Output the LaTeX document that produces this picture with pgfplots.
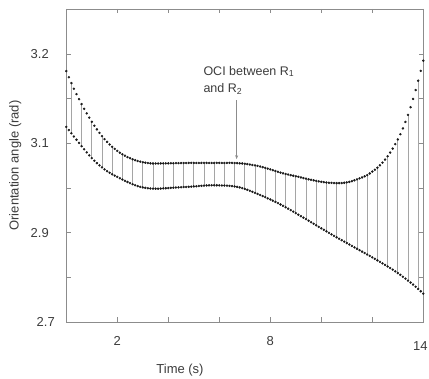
\documentclass[border=0pt]{standalone}
\usepackage{pgfplots}
\pgfplotsset{compat=1.18}
\usepackage{pgfplotstable}
\usepackage{fontspec}
\setmainfont{Liberation Sans}
\usetikzlibrary{arrows.meta}
\definecolor{frame}{RGB}{140,140,140}
\definecolor{txt}{RGB}{60,60,60}
\definecolor{vline}{RGB}{165,165,165}
\definecolor{dot}{RGB}{25,25,25}

\pgfplotstableread{
t up lo
0.0 3.1810 3.1185
0.1 3.1741 3.1149
0.2 3.1675 3.1113
0.3 3.1612 3.1077
0.4 3.1552 3.1041
0.5 3.1495 3.1005
0.6 3.1440 3.0969
0.7 3.1387 3.0934
0.8 3.1336 3.0899
0.9 3.1288 3.0866
1.0 3.1242 3.0835
1.1 3.1198 3.0806
1.2 3.1157 3.0779
1.3 3.1118 3.0754
1.4 3.1082 3.0731
1.5 3.1048 3.0709
1.6 3.1017 3.0689
1.7 3.0988 3.0671
1.8 3.0962 3.0654
1.9 3.0938 3.0639
2.0 3.0916 3.0625
2.1 3.0896 3.0610
2.2 3.0878 3.0595
2.3 3.0862 3.0581
2.4 3.0847 3.0568
2.5 3.0834 3.0555
2.6 3.0822 3.0543
2.7 3.0812 3.0532
2.8 3.0803 3.0522
2.9 3.0795 3.0514
3.0 3.0789 3.0507
3.1 3.0784 3.0502
3.2 3.0780 3.0498
3.3 3.0777 3.0495
3.4 3.0775 3.0494
3.5 3.0775 3.0493
3.6 3.0775 3.0493
3.7 3.0776 3.0494
3.8 3.0776 3.0496
3.9 3.0777 3.0498
4.0 3.0777 3.0500
4.1 3.0778 3.0502
4.2 3.0778 3.0504
4.3 3.0779 3.0506
4.4 3.0779 3.0508
4.5 3.0780 3.0509
4.6 3.0780 3.0511
4.7 3.0780 3.0512
4.8 3.0781 3.0514
4.9 3.0781 3.0516
5.0 3.0781 3.0518
5.1 3.0781 3.0520
5.2 3.0781 3.0523
5.3 3.0781 3.0525
5.4 3.0781 3.0527
5.5 3.0781 3.0529
5.6 3.0781 3.0530
5.7 3.0781 3.0531
5.8 3.0781 3.0531
5.9 3.0781 3.0531
6.0 3.0781 3.0530
6.1 3.0781 3.0529
6.2 3.0781 3.0528
6.3 3.0781 3.0527
6.4 3.0781 3.0525
6.5 3.0781 3.0522
6.6 3.0780 3.0518
6.7 3.0779 3.0513
6.8 3.0777 3.0507
6.9 3.0775 3.0499
7.0 3.0772 3.0490
7.1 3.0768 3.0480
7.2 3.0763 3.0469
7.3 3.0758 3.0458
7.4 3.0753 3.0446
7.5 3.0748 3.0434
7.6 3.0741 3.0422
7.7 3.0734 3.0410
7.8 3.0726 3.0398
7.9 3.0718 3.0385
8.0 3.0709 3.0372
8.1 3.0700 3.0359
8.2 3.0691 3.0345
8.3 3.0682 3.0331
8.4 3.0673 3.0316
8.5 3.0665 3.0301
8.6 3.0658 3.0285
8.7 3.0651 3.0269
8.8 3.0644 3.0253
8.9 3.0638 3.0236
9.0 3.0632 3.0219
9.1 3.0626 3.0202
9.2 3.0619 3.0185
9.3 3.0612 3.0168
9.4 3.0605 3.0151
9.5 3.0598 3.0134
9.6 3.0592 3.0117
9.7 3.0586 3.0100
9.8 3.0580 3.0083
9.9 3.0575 3.0066
10.0 3.0570 3.0049
10.1 3.0566 3.0032
10.2 3.0562 3.0015
10.3 3.0559 2.9998
10.4 3.0557 2.9981
10.5 3.0556 2.9964
10.6 3.0555 2.9948
10.7 3.0555 2.9932
10.8 3.0556 2.9916
10.9 3.0559 2.9900
11.0 3.0563 2.9884
11.1 3.0569 2.9868
11.2 3.0577 2.9852
11.3 3.0587 2.9836
11.4 3.0597 2.9820
11.5 3.0608 2.9804
11.6 3.0619 2.9788
11.7 3.0631 2.9772
11.8 3.0645 2.9756
11.9 3.0663 2.9740
12.0 3.0685 2.9724
12.1 3.0705 2.9707
12.2 3.0728 2.9690
12.3 3.0755 2.9673
12.4 3.0785 2.9656
12.5 3.0819 2.9639
12.6 3.0856 2.9622
12.7 3.0897 2.9604
12.8 3.0942 2.9586
12.9 3.0991 2.9567
13.0 3.1044 2.9548
13.1 3.1103 2.9528
13.2 3.1168 2.9507
13.3 3.1240 2.9486
13.4 3.1319 2.9464
13.5 3.1405 2.9442
13.6 3.1498 2.9419
13.7 3.1597 2.9395
13.8 3.1702 2.9370
13.9 3.1812 2.9344
14.0 3.1926 2.9318
}\ocidata

\begin{document}
\begin{tikzpicture}
\path[use as bounding box] (-66.3pt,-57pt) rectangle (362.7pt,322pt);
\begin{axis}[
  at={(0,0)}, anchor=south west,
  scale only axis, width=357pt, height=313pt,
  xmin=0, xmax=14, ymin=2.9, ymax=3.2505,
  axis line style={frame, line width=0.9pt},
  every tick/.style={frame, line width=0.8pt},
  tick align=inside, major tick length=4.5pt,
  xtick={0,2,4,6,8,10,12,14},
  xticklabels={,2,,,8,,,},
  extra x ticks={14},
  extra x tick labels={14},
  extra x tick style={xticklabel style={yshift=-5pt, xshift=-3pt}},
  ytick={2.9,2.95,3.0,3.05,3.1,3.15,3.2,3.25},
  yticklabels={2.7\kern-6pt,,2.9,,3.1,,3.2,},
  tick label style={font=\fontsize{13}{15}\selectfont, text=txt},
  yticklabel style={xshift=-14pt},
  xticklabel style={yshift=-11pt},
  xlabel={Time (s)}, ylabel={Orientation angle (rad)},
  every axis x label/.style={at={(axis description cs:0.3185,-0.1534)}, anchor=center, font=\fontsize{13}{15}\selectfont, text=txt},
  every axis y label/.style={at={(axis description cs:-0.1429,0.5)}, rotate=90, anchor=center, font=\fontsize{13}{15}\selectfont, text=txt},
]
\addplot[draw=none, mark=none, forget plot,
  x filter/.expression={mod(round(10*x),4)==2 ? x : nan},
  error bars/.cd, y dir=plus, y explicit, error mark=none,
  error bar style={draw=vline, line width=0.9pt}]
  table[x=t, y=lo, y error expr=\thisrow{up}-\thisrow{lo}] {\ocidata};
\addplot[only marks, mark=*, mark size=1pt, dot] table[x=t, y=up] {\ocidata};
\addplot[only marks, mark=*, mark size=1pt, dot] table[x=t, y=lo] {\ocidata};
\node[anchor=base west, inner sep=0pt, font=\fontsize{12.5}{14}\selectfont, text=txt] at (axis cs:5.373,3.1765) {OCI between R\textsubscript{1}};
\node[anchor=base west, inner sep=0pt, font=\fontsize{12.5}{14}\selectfont, text=txt] at (axis cs:5.373,3.1566) {and R\textsubscript{2}};
\draw[frame, line width=0.8pt, -{Stealth[length=4pt,width=3pt]}] (axis cs:6.68,3.1484) -- (axis cs:6.68,3.0823);
\end{axis}
\end{tikzpicture}
\end{document}
